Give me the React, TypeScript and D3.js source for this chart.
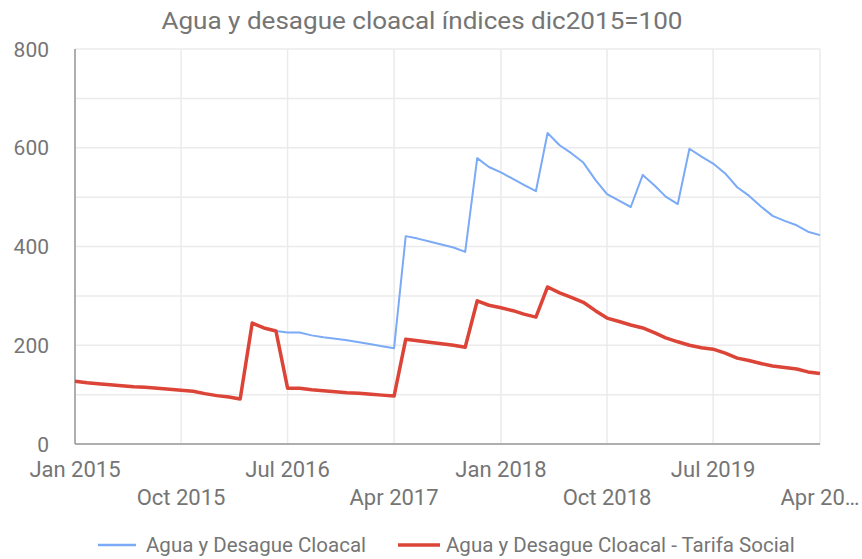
import React from "react";
import * as d3 from "d3";

const title = "Agua y desague cloacal índices dic2015=100";
const seriesNames = ["Agua y Desague Cloacal", "Agua y Desague Cloacal - Tarifa Social"];

// monthly, Jan 2015 .. Apr 2020
const agua = [
  127, 124, 122, 120, 118, 116, 115, 113, 111, 109, 107, 102,
  98, 95, 91, 245, 235, 229, 226, 226, 220, 216, 213, 210,
  206, 202, 198, 194, 421, 416, 410, 404, 398, 389, 579, 561,
  550, 537, 525, 512, 630, 605, 589, 570, 535, 506, 493, 480,
  545, 523, 501, 486, 598, 582, 568, 548, 520, 503, 481, 462,
  452, 443, 430, 423,
];
const tarifaSocial = [
  127, 124, 122, 120, 118, 116, 115, 113, 111, 109, 107, 102,
  98, 95, 91, 245, 235, 229, 113, 113, 110, 108, 106, 104,
  103, 101, 99, 97, 212, 209, 206, 203, 200, 196, 290, 281,
  276, 270, 263, 257, 318, 306, 297, 287, 270, 255, 248, 241,
  235, 225, 215, 207, 200, 195, 192, 184, 174, 169, 163, 158,
  155, 152, 146, 143,
];
const xTickLabels = ["Jan 2015", "Oct 2015", "Jul 2016", "Apr 2017", "Jan 2018", "Oct 2018", "Jul 2019", "Apr 20…"];
const yTicks = [0, 200, 400, 600, 800];

const W = 862;
const H = 559;
const margin = { top: 49, right: 42, bottom: 115, left: 75 };

function App() {
  const months = agua.map((_, i) => new Date(2015, i, 1));
  const x = d3
    .scaleTime()
    .domain([months[0], months[months.length - 1]])
    .range([margin.left, W - margin.right]);
  const y = d3.scaleLinear().domain([0, 800]).range([H - margin.bottom, margin.top]);

  const line = d3
    .line<number>()
    .x((_, i) => x(months[i]))
    .y((d) => y(d));

  const gridY = d3.range(0, 801, 100);
  const tickMonths = d3.range(0, 64, 9).map((m) => new Date(2015, m, 1));
  const font = "Roboto, sans-serif";
  const grey = "#757575";

  return (
    <svg width={W} height={H} style={{ position: "absolute", left: 0, top: 0 }}>
      <rect width={W} height={H} fill="#fff" />
      <text
        x={422}
        y={29}
        textAnchor="middle"
        fontFamily={font}
        fontSize={23}
        fill={grey}
        textLength={521}
        lengthAdjust="spacingAndGlyphs"
      >
        {title}
      </text>
      {gridY.map((v) => (
        <line key={v} x1={x.range()[0]} x2={x.range()[1]} y1={y(v)} y2={y(v)} stroke="#ebebeb" strokeWidth={1.5} />
      ))}
      {tickMonths.map((d, i) => (
        <line key={i} x1={x(d)} x2={x(d)} y1={y(0)} y2={y(800)} stroke="#ebebeb" strokeWidth={1.5} />
      ))}
      <line x1={x.range()[0]} x2={x.range()[0]} y1={y(0)} y2={y(800)} stroke="#999" strokeWidth={1.5} />
      <line x1={x.range()[0]} x2={x.range()[1]} y1={y(0)} y2={y(0)} stroke="#999" strokeWidth={1.5} />
      {yTicks.map((v) => (
        <text key={v} x={49} y={y(v) + 7.5} textAnchor="end" fontFamily={font} fontSize={21} fill={grey}>
          {v}
        </text>
      ))}
      {tickMonths.map((d, i) => (
        <text
          key={i}
          x={x(d)}
          y={i % 2 === 0 ? 477 : 505}
          textAnchor="middle"
          fontFamily={font}
          fontSize={22}
          fill={grey}
        >
          {xTickLabels[i]}
        </text>
      ))}
      <path d={line(agua) || ""} fill="none" stroke="#7baaf7" strokeWidth={2} strokeLinejoin="round" />
      <path d={line(tarifaSocial) || ""} fill="none" stroke="#db4437" strokeWidth={3.5} strokeLinejoin="round" />
      <line x1={98} x2={136} y1={545} y2={545} stroke="#7baaf7" strokeWidth={2.5} />
      <text x={146} y={552} fontFamily={font} fontSize={20.5} fill={grey}>
        {seriesNames[0]}
      </text>
      <line x1={398} x2={440} y1={545} y2={545} stroke="#db4437" strokeWidth={3.5} />
      <text x={446} y={552} fontFamily={font} fontSize={20.5} fill={grey}>
        {seriesNames[1]}
      </text>
    </svg>
  );
}

export default App;
